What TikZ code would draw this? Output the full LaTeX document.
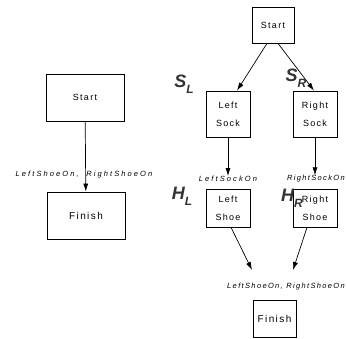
\documentclass[tikz,border=0pt]{standalone}
\usepackage{fontspec}
\setmainfont{Liberation Sans}
\usetikzlibrary{arrows.meta}
\begin{document}
\begin{tikzpicture}[x=1pt,y=-1pt,
  box/.style={draw, line width=0.8pt, inner sep=0pt, align=center,
    font=\fontsize{9}{18}\selectfont\addfontfeatures{LetterSpace=14}},
  lbl/.style={inner sep=0pt, font=\fontsize{7.5}{8}\selectfont\itshape\addfontfeatures{LetterSpace=28}},
  tight/.style={font=\fontsize{7.5}{8}\selectfont\itshape\addfontfeatures{LetterSpace=18}},
  hand/.style={inner sep=0pt, text=black!80, font=\fontsize{18}{18}\selectfont\bfseries\itshape},
  arr/.style={-{Latex[length=8pt,width=5pt]}, line width=0.7pt}]
\useasboundingbox (0,0) rectangle (347,338);
% left plan
\node[box, minimum width=78pt, minimum height=47pt] (LStart) at (85,97.5) {Start};
\node[box, minimum width=78pt, minimum height=47pt] (LFinish) at (86,215.5) {\fontsize{10}{11}\selectfont Finish};
\node[lbl] (LLabel) at (84,175) {LeftShoeOn,\quad RightShoeOn};
\draw[arr] (LStart) -- (LFinish);
% right plan
\node[box, minimum width=42pt, minimum height=36pt] (RStart) at (273,25) {Start};
\node[box, minimum width=44pt, minimum height=46pt] (LSock) at (228,114) {Left\\Sock};
\node[box, minimum width=44pt, minimum height=46pt] (RSock) at (315,114) {Right\\Sock};
\node[box, minimum width=44pt, minimum height=38pt] (LShoe) at (228,208) {Left\\Shoe};
\node[box, minimum width=44pt, minimum height=38pt] (RShoe) at (315,208) {Right\\Shoe};
\node[box, minimum width=43pt, minimum height=37pt] (RFinish) at (274.5,318.5) {\fontsize{10}{11}\selectfont Finish};
\node[lbl] (LSockOn) at (228,179) {LeftSockOn};
\node[lbl, tight, anchor=east] (RSockOn) at (345,179) {RightSockOn};
\node[lbl, tight, anchor=east] (RLabel) at (345,287) {LeftShoeOn, RightShoeOn};
\coordinate (e1) at (252,270);
\coordinate (e2) at (293,270);
\draw[arr] ([xshift=-6pt]RStart.south) -- ([xshift=9pt]LSock.north);
\draw[arr] ([xshift=5pt]RStart.south) -- ([xshift=-1pt]RSock.north);
\draw[arr] (LSock.south) -- (LSockOn.north);
\draw[arr] (RSock.south) -- (RSock.south |- RSockOn.north);
\draw[arr] ([xshift=3pt]LShoe.south) -- (e1);
\draw[arr] ([xshift=-8pt]RShoe.south) -- (e2);
% handwritten annotations
\node[hand] (SL) at (184,84) {S\raisebox{-6pt}{\fontsize{12}{12}\selectfont L}};
\node[hand] (SR) at (296,78) {S\raisebox{-6pt}{\fontsize{12}{12}\selectfont R}};
\node[hand] (HL) at (182,196) {H\raisebox{-6pt}{\fontsize{12}{12}\selectfont L}};
\node[hand] (HR) at (292,198) {H\raisebox{-6pt}{\fontsize{12}{12}\selectfont R}};
\end{tikzpicture}
\end{document}
